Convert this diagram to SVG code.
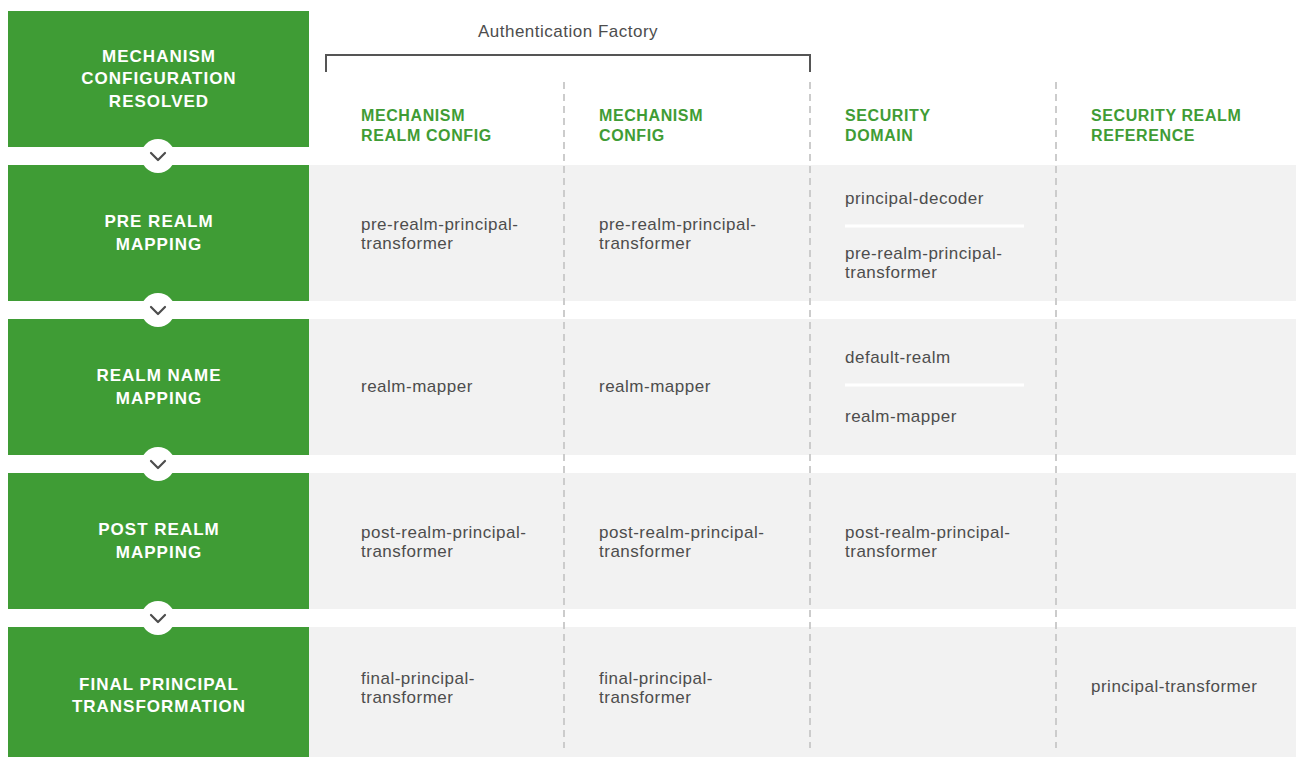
<svg xmlns="http://www.w3.org/2000/svg" width="1296" height="757" viewBox="0 0 1296 757">
<style>
.band{fill:#f2f2f2}
.stage{fill:#3f9c35}
.st{font-family:"Liberation Sans",Arial,sans-serif;font-weight:bold;font-size:17px;fill:#fff;text-anchor:middle;letter-spacing:1px}
.hd{font-family:"Liberation Sans",Arial,sans-serif;font-weight:bold;font-size:16px;fill:#3f9c35;letter-spacing:0.6px}
.tx{font-family:"Liberation Sans",Arial,sans-serif;font-size:17px;fill:#4d4d4d;letter-spacing:0.5px}
.dash{stroke:#cccccc;stroke-width:2;stroke-dasharray:7,5;fill:none}
.sep{stroke:#ffffff;stroke-width:3}
.chev{fill:#fff}
.chp{fill:none;stroke:#4d4d4d;stroke-width:2.2;stroke-linecap:round;stroke-linejoin:round}
</style>
<rect width="1296" height="757" fill="#ffffff"/>
<g id="bands">
<rect class="band" x="309" y="165" width="987" height="136"/>
<rect class="band" x="309" y="319" width="987" height="136"/>
<rect class="band" x="309" y="473" width="987" height="136"/>
<rect class="band" x="309" y="627" width="987" height="130"/>
</g>
<g id="grid">
<line class="dash" x1="564" y1="82" x2="564" y2="748"/>
<line class="dash" x1="810" y1="82" x2="810" y2="748"/>
<line class="dash" x1="1056" y1="82" x2="1056" y2="748"/>
<line class="sep" x1="845" y1="226" x2="1024" y2="226"/>
<line class="sep" x1="845" y1="385" x2="1024" y2="385"/>
</g>
<g id="auth-factory">
<path d="M326 72 V55 H810 V72" fill="none" stroke="#555555" stroke-width="2"/>
<text x="568" y="37" font-family="'Liberation Sans',Arial,sans-serif" font-size="17" fill="#4d4d4d" text-anchor="middle" letter-spacing="0.5">Authentication Factory</text>
</g>
<g id="headers">
<text class="hd" x="361" y="121">MECHANISM</text>
<text class="hd" x="361" y="141">REALM CONFIG</text>
<text class="hd" x="599" y="121">MECHANISM</text>
<text class="hd" x="599" y="141">CONFIG</text>
<text class="hd" x="845" y="121">SECURITY</text>
<text class="hd" x="845" y="141">DOMAIN</text>
<text class="hd" x="1091" y="121">SECURITY REALM</text>
<text class="hd" x="1091" y="141">REFERENCE</text>
</g>
<g id="stage1">
<rect class="stage" x="8" y="11" width="301" height="136"/>
<text class="st" x="159" y="62">MECHANISM</text>
<text class="st" x="159" y="84">CONFIGURATION</text>
<text class="st" x="159" y="107">RESOLVED</text>
</g>
<g id="stage2">
<rect class="stage" x="8" y="165" width="301" height="136"/>
<text class="st" x="159" y="227">PRE REALM</text>
<text class="st" x="159" y="250">MAPPING</text>
</g>
<g id="stage3">
<rect class="stage" x="8" y="319" width="301" height="136"/>
<text class="st" x="159" y="381">REALM NAME</text>
<text class="st" x="159" y="404">MAPPING</text>
</g>
<g id="stage4">
<rect class="stage" x="8" y="473" width="301" height="136"/>
<text class="st" x="159" y="535">POST REALM</text>
<text class="st" x="159" y="558">MAPPING</text>
</g>
<g id="stage5">
<rect class="stage" x="8" y="627" width="301" height="130"/>
<text class="st" x="159" y="690">FINAL PRINCIPAL</text>
<text class="st" x="159" y="712">TRANSFORMATION</text>
</g>
<g id="connectors">
<circle class="chev" cx="158" cy="156" r="17"/>
<path class="chp" d="M151 153 L158 160 L165 153"/>
<circle class="chev" cx="158" cy="310" r="17"/>
<path class="chp" d="M151 307 L158 314 L165 307"/>
<circle class="chev" cx="158" cy="464" r="17"/>
<path class="chp" d="M151 461 L158 468 L165 461"/>
<circle class="chev" cx="158" cy="618" r="17"/>
<path class="chp" d="M151 615 L158 622 L165 615"/>
</g>
<g id="cells">
<text class="tx" x="361" y="230">pre-realm-principal-</text>
<text class="tx" x="361" y="249">transformer</text>
<text class="tx" x="599" y="230">pre-realm-principal-</text>
<text class="tx" x="599" y="249">transformer</text>
<text class="tx" x="845" y="204">principal-decoder</text>
<text class="tx" x="845" y="259">pre-realm-principal-</text>
<text class="tx" x="845" y="278">transformer</text>
<text class="tx" x="361" y="392">realm-mapper</text>
<text class="tx" x="599" y="392">realm-mapper</text>
<text class="tx" x="845" y="363">default-realm</text>
<text class="tx" x="845" y="422">realm-mapper</text>
<text class="tx" x="361" y="538">post-realm-principal-</text>
<text class="tx" x="361" y="557">transformer</text>
<text class="tx" x="599" y="538">post-realm-principal-</text>
<text class="tx" x="599" y="557">transformer</text>
<text class="tx" x="845" y="538">post-realm-principal-</text>
<text class="tx" x="845" y="557">transformer</text>
<text class="tx" x="361" y="684">final-principal-</text>
<text class="tx" x="361" y="703">transformer</text>
<text class="tx" x="599" y="684">final-principal-</text>
<text class="tx" x="599" y="703">transformer</text>
<text class="tx" x="1091" y="692">principal-transformer</text>
</g>
</svg>
